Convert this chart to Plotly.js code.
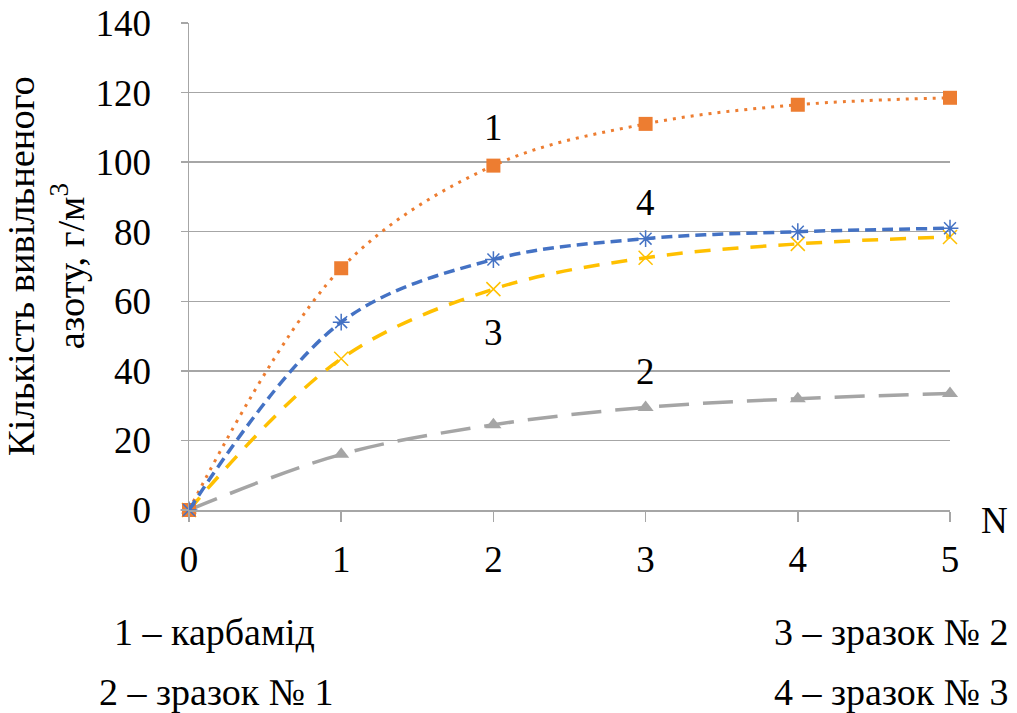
<!DOCTYPE html>
<html>
<head>
<meta charset="utf-8">
<script src="https://cdn.plot.ly/plotly-3.0.1.min.js"></script>
<style>html,body{margin:0;padding:0;background:#fff;}#chart{width:1017px;height:713px;}</style>
</head>
<body>
<div id="chart"></div>
<script>
const N = [0, 1, 2, 3, 4, 5];
const carbamide = [0, 69.5, 99, 111, 116.5, 118.5];   // 1
const sample1 = [0, 16, 24.5, 29.5, 32, 33.5];         // 2
const sample2 = [0, 43.5, 63.5, 72.5, 76.5, 78.5];     // 3
const sample3 = [0, 54, 72, 78, 80, 81];               // 4
const yTicks = [0, 20, 40, 60, 80, 100, 120, 140];
const xTicks = [0, 1, 2, 3, 4, 5];
const curveLabels = [
  {text: '1', x: 2, y: 110},
  {text: '4', x: 3, y: 88.3},
  {text: '3', x: 2, y: 51},
  {text: '2', x: 3, y: 39.7}
];
const legendItems = [
  {text: '1 – карбамід', x: 0.034, y: -0.25},
  {text: '3 – зразок № 2', x: 0.922, y: -0.25},
  {text: '2 – зразок № 1', x: 0.035, y: -0.374},
  {text: '4 – зразок № 3', x: 0.922, y: -0.374}
];
const yTitle = 'Кількість вивільненого<br>азоту, г/м<sup>3</sup>';
const xTitle = 'N';

const FONT = 'Liberation Serif';

const traces = [
  {x: N, y: sample1, mode: 'lines+markers', cliponaxis: false, line: {shape: 'spline', color: '#A5A5A5', width: 3.5, dash: '30px,14px'},
   marker: {symbol: 'triangle-up', size: 14, color: '#A5A5A5'}},
  {x: N, y: sample2, mode: 'lines+markers', cliponaxis: false, line: {shape: 'spline', color: '#FFC000', width: 3.5, dash: '16px,12px'},
   marker: {symbol: 'x-thin-open', size: 14, color: '#FFC000', line: {color: '#FFC000', width: 1.5}}},
  {x: N, y: carbamide, mode: 'lines+markers', cliponaxis: false, line: {shape: 'spline', color: '#ED7D31', width: 3, dash: '3px,6px'},
   marker: {symbol: 'square', size: 14, color: '#ED7D31'}},
  {x: N, y: sample3, mode: 'lines+markers', cliponaxis: false, line: {shape: 'spline', color: '#4472C4', width: 3.5, dash: '11px,6px'},
   marker: {symbol: 'asterisk-open', size: 14, color: '#4472C4', line: {color: '#4472C4', width: 1.5}}}
];

const annotations = [];
curveLabels.forEach(c => annotations.push({text: c.text, x: c.x, y: c.y, xref: 'x', yref: 'y', showarrow: false,
  font: {family: FONT, size: 37, color: '#000'}}));
legendItems.forEach(l => annotations.push({text: l.text, x: l.x, y: l.y, xref: 'paper', yref: 'paper', showarrow: false,
  xanchor: 'center', yanchor: 'middle', font: {family: FONT, size: 38, color: '#000'}}));
annotations.push({text: xTitle, x: 1.059, y: -0.021, xref: 'paper', yref: 'paper', showarrow: false,
  xanchor: 'center', yanchor: 'middle', font: {family: FONT, size: 37, color: '#000'}});
annotations.push({text: yTitle, x: -0.188, y: 0.501, xref: 'paper', yref: 'paper', showarrow: false,
  textangle: -90, xanchor: 'center', yanchor: 'middle', font: {family: FONT, size: 38.5, color: '#000'}});

const layout = {
  width: 1017, height: 713,
  margin: {l: 189, r: 67, t: 23, b: 203},
  paper_bgcolor: '#fff', plot_bgcolor: '#fff',
  showlegend: false,
  font: {family: FONT, size: 37, color: '#000'},
  xaxis: {range: [0, 5], tickvals: xTicks, ticks: 'outside', ticklen: 10, tickcolor: '#A6A6A6', tickwidth: 1.5,
    showline: true, linecolor: '#A6A6A6', linewidth: 1.5, showgrid: false, zeroline: false, ticklabelstandoff: 6,
    tickfont: {family: FONT, size: 37, color: '#000'}},
  yaxis: {range: [0, 140], tickvals: yTicks, ticks: 'outside', ticklen: 7, tickcolor: '#A6A6A6', tickwidth: 1.5,
    showline: true, linecolor: '#A6A6A6', linewidth: 1.5, showgrid: true, gridcolor: '#A6A6A6', gridwidth: 1.5,
    zeroline: false, ticklabelstandoff: 22,
    tickfont: {family: FONT, size: 37, color: '#000'}},
  annotations: annotations
};

Plotly.newPlot('chart', traces, layout, {displayModeBar: false, staticPlot: true});
</script>
</body>
</html>
